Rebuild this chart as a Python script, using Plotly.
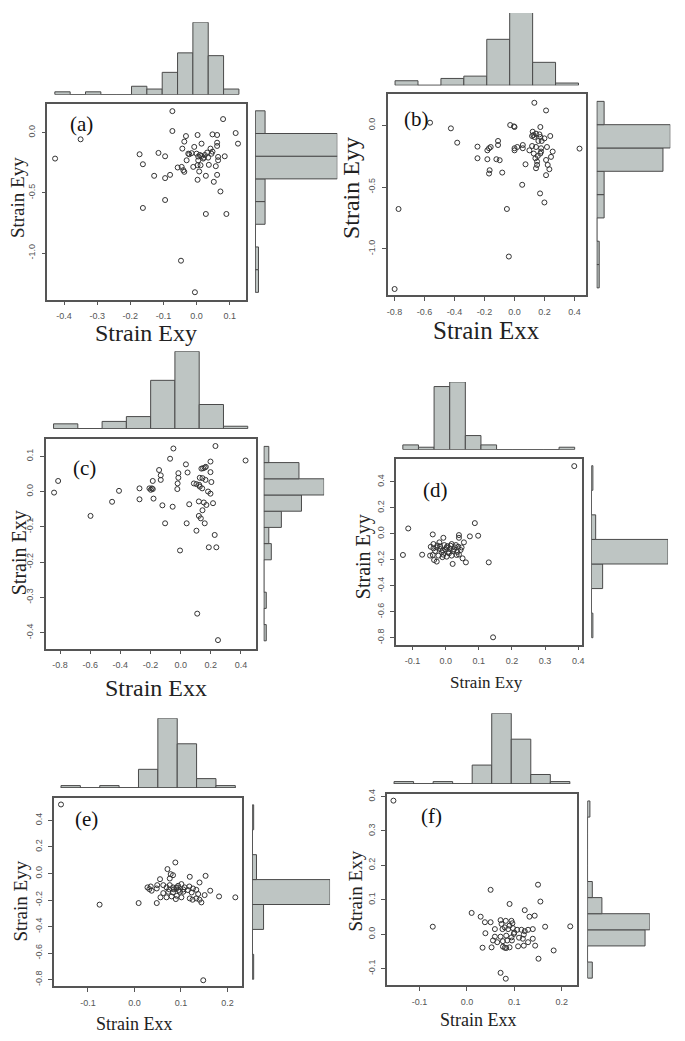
import plotly.graph_objects as go

W, H = 685, 1041          # browser window
OFF = 8                   # default body margin of the html page
FW, FH = W - 2 * OFF, H - 2 * OFF

# ---------------- data ----------------
# (a) Strain Exy (x) vs Strain Eyy (y)
a_pts = [(-0.073,0.179),(0.080,0.113),(-0.073,0.014),(0.118,-0.003),(0.125,-0.091),(-0.032,-0.028),(0.003,-0.019),
         (0.048,-0.014),(0.062,-0.019),(-0.037,-0.074),(0.015,-0.091),(0.062,-0.083),(0.062,-0.110),(-0.043,-0.132),
         (-0.007,-0.118),(0.042,-0.132),(0.048,-0.157),(-0.172,-0.179),(-0.115,-0.168),(-0.095,-0.196),(-0.025,-0.174),
         (-0.022,-0.179),(0.000,-0.174),(0.005,-0.198),(0.015,-0.193),(0.025,-0.185),(0.032,-0.165),(0.035,-0.207),
         (0.022,-0.207),(0.065,-0.201),(0.065,-0.229),(0.085,-0.196),(-0.030,-0.229),(-0.162,-0.262),(0.003,-0.270),
         (0.012,-0.270),(0.037,-0.267),(0.058,-0.278),(-0.057,-0.289),(-0.045,-0.284),(-0.040,-0.311),(-0.037,-0.325),
         (-0.010,-0.284),(0.008,-0.322),(-0.128,-0.358),(-0.095,-0.377),(-0.080,-0.350),(0.028,-0.358),(0.062,-0.350),
         (0.003,-0.391),(0.052,-0.408),(0.072,-0.488),(-0.095,-0.559),(-0.162,-0.625),(0.028,-0.675),(0.090,-0.675),
         (-0.427,-0.215),(-0.350,-0.055),(-0.047,-1.063),(-0.005,-1.325),(0.010,-0.185),(0.020,-0.215),(-0.015,-0.170),
         (0.045,-0.175),(0.005,-0.230)]
a_top_counts = [1, 0, 1, 0, 0, 3, 2, 8, 15, 26, 14, 2]
a_right_counts = [1, 1, 0, 3, 3, 25, 25, 3]          # bottom bin first
a_xticks = [-0.4, -0.3, -0.2, -0.1, 0.0, 0.1]
a_yticks = [0.0, -0.5, -1.0]

# (b) Strain Exx vs Strain Eyy
b_pts = [(0.132,0.183),(0.210,0.121),(-0.029,0.003),(0.000,-0.013),(-0.004,-0.008),(0.172,-0.013),(0.121,-0.051),
         (0.126,-0.078),(0.143,-0.067),(0.166,-0.073),(0.172,-0.094),(0.199,-0.105),(0.238,-0.086),(0.117,-0.086),
         (0.132,-0.094),(0.159,-0.126),(0.181,-0.126),(-0.110,-0.126),(-0.110,-0.159),(-0.247,-0.172),(-0.181,-0.202),
         (-0.170,-0.185),(-0.159,-0.175),(0.000,-0.185),(0.018,-0.175),(0.055,-0.159),(0.055,-0.185),(0.000,-0.202),
         (0.117,-0.167),(0.143,-0.175),(0.177,-0.185),(0.177,-0.212),(0.216,-0.175),(0.099,-0.202),(0.128,-0.228),
         (0.155,-0.247),(0.172,-0.228),(0.254,-0.212),(0.433,-0.188),(-0.247,-0.266),(-0.181,-0.274),(-0.121,-0.274),
         (-0.099,-0.282),(0.139,-0.266),(0.210,-0.280),(0.243,-0.255),(0.150,-0.293),(0.221,-0.320),(0.150,-0.320),
         (0.073,-0.315),(0.143,-0.347),(0.232,-0.355),(-0.166,-0.363),(-0.170,-0.390),(-0.082,-0.382),(0.210,-0.403),
         (0.051,-0.481),(0.170,-0.551),(-0.563,0.022),(-0.424,-0.024),(-0.382,-0.140),(-0.773,-0.677),(-0.799,-1.325),
         (-0.051,-0.677),(-0.038,-1.062),(0.199,-0.624)]
b_top_counts = [2, 0, 3, 4, 20, 32, 10, 1]
b_right_counts = [1, 1, 0, 3, 3, 27, 30, 3]
b_xticks = [-0.8, -0.6, -0.4, -0.2, 0.0, 0.2, 0.4]
b_yticks = [0.0, -0.5, -1.0]

# (c) Strain Exx vs Strain Exy
c_pts = [(-0.048,0.122),(0.231,0.129),(-0.070,0.093),(0.431,0.088),(0.198,0.085),(0.035,0.077),(0.138,0.065),
         (0.149,0.066),(0.160,0.068),(0.167,0.070),(-0.143,0.061),(-0.015,0.052),(0.046,0.054),(0.198,0.055),
         (-0.132,0.046),(-0.132,0.033),(-0.015,0.039),(0.127,0.039),(0.145,0.038),(0.165,0.033),(0.204,0.027),
         (-0.185,0.030),(-0.020,0.023),(0.088,0.023),(0.105,0.021),(0.123,0.019),(0.127,0.014),(0.143,0.009),
         (-0.273,0.009),(-0.207,0.009),(-0.191,0.009),(-0.198,0.005),(-0.185,0.007),(-0.022,0.007),(0.182,0.000),
         (0.198,-0.006),(-0.273,-0.022),(-0.180,-0.020),(0.121,-0.028),(0.154,-0.031),(0.171,-0.038),(0.215,-0.033),
         (-0.121,-0.039),(-0.053,-0.043),(0.057,-0.036),(0.145,-0.053),(0.121,-0.069),(0.134,-0.076),(-0.103,-0.090),
         (0.040,-0.090),(0.160,-0.090),(0.105,-0.111),(0.226,-0.123),(-0.840,-0.003),(-0.813,0.030),(-0.598,-0.069),
         (-0.455,-0.029),(-0.409,0.002),(-0.004,-0.167),(0.187,-0.158),(0.237,-0.158),(0.110,-0.346),(0.248,-0.421)]
c_top_counts = [2, 0, 3, 5, 20, 32, 10, 1]
c_right_counts = [1, 0, 1, 0, 0, 3, 2, 7, 15, 24, 14, 2]
c_xticks = [-0.8, -0.6, -0.4, -0.2, 0.0, 0.2, 0.4]
c_yticks = [0.1, 0.0, -0.1, -0.2, -0.3, -0.4]

# (d) Strain Exy vs Strain Eyy
d_pts = [(-0.113,0.041),(0.088,0.082),(-0.129,-0.163),(-0.071,-0.161),(-0.039,-0.005),(-0.007,-0.031),(0.040,-0.010),
         (0.040,-0.031),(0.073,-0.020),(0.098,-0.015),(0.055,-0.066),(-0.037,-0.079),(-0.019,-0.066),(-0.004,-0.087),
         (0.018,-0.079),(0.031,-0.087),(-0.037,-0.112),(-0.027,-0.105),(-0.017,-0.117),(0.003,-0.105),(0.013,-0.117),
         (0.028,-0.105),(0.038,-0.100),(0.048,-0.105),(-0.032,-0.133),(-0.012,-0.143),(0.008,-0.138),(0.023,-0.130),
         (-0.047,-0.168),(-0.039,-0.163),(-0.022,-0.168),(-0.007,-0.161),(0.003,-0.176),(0.018,-0.168),(0.033,-0.163),
         (-0.035,-0.202),(-0.027,-0.214),(0.021,-0.232),(0.051,-0.189),(0.061,-0.220),(0.130,-0.220),(-0.017,-0.097),
         (0.015,-0.092),(-0.009,-0.130),(0.388,0.521),(0.143,-0.797),(0.000,-0.120),(0.010,-0.150),(-0.025,-0.090),
         (0.035,-0.140),(0.045,-0.125),(-0.045,-0.100),(0.005,-0.095),(0.025,-0.120),(-0.010,-0.180),(0.040,-0.160)]
d_top_counts = [2, 1, 27, 29, 6, 2, 0, 0, 0, 0, 1]
d_right_counts = [1, 0, 8, 55, 3, 0, 1]
d_xticks = [-0.1, 0.0, 0.1, 0.2, 0.3, 0.4]
d_yticks = [0.4, 0.2, 0.0, -0.2, -0.4, -0.6, -0.8]

# (e) Strain Exx vs Strain Eyy
e_pts = [(0.088,0.083),(0.071,0.033),(0.078,-0.005),(0.083,-0.013),(0.076,-0.038),(0.119,-0.025),(0.153,-0.018),
         (0.055,-0.043),(0.140,-0.068),(0.028,-0.105),(0.032,-0.118),(0.037,-0.130),(0.049,-0.088),(0.048,-0.113),
         (0.062,-0.088),(0.069,-0.105),(0.076,-0.088),(0.083,-0.105),(0.091,-0.105),(0.094,-0.093),(0.101,-0.080),
         (0.108,-0.105),(0.118,-0.098),(0.126,-0.113),(0.133,-0.123),(0.163,-0.130),(0.073,-0.138),(0.083,-0.143),
         (0.098,-0.138),(0.105,-0.138),(0.123,-0.143),(0.137,-0.155),(0.151,-0.163),(0.182,-0.173),(0.217,-0.180),
         (0.056,-0.180),(0.069,-0.180),(0.080,-0.173),(0.091,-0.168),(0.101,-0.180),(0.119,-0.188),(0.125,-0.198),
         (0.133,-0.188),(0.140,-0.198),(0.144,-0.218),(0.009,-0.223),(0.048,-0.223),(0.089,-0.193),(0.062,-0.148),
         (0.035,-0.098),(-0.158,0.520),(-0.075,-0.235),(0.148,-0.805),(0.090,-0.110),(0.085,-0.120),(0.095,-0.125),
         (0.105,-0.120),(0.115,-0.125),(0.075,-0.120)]
e_top_counts = [1, 0, 1, 0, 8, 30, 19, 4, 1]
e_right_counts = [1, 0, 8, 55, 3, 0, 1]
e_xticks = [-0.1, 0.0, 0.1, 0.2]
e_yticks = [0.4, 0.2, 0.0, -0.2, -0.4, -0.6, -0.8]

# (f) Strain Exx vs Strain Exy
f_pts = [(0.050,0.129),(0.150,0.144),(0.155,0.095),(0.090,0.088),(0.122,0.070),(0.010,0.062),(0.132,0.051),
         (0.143,0.054),(0.029,0.051),(0.038,0.035),(0.050,0.035),(0.071,0.041),(0.082,0.039),(0.094,0.039),
         (0.096,0.032),(0.073,0.030),(0.165,0.022),(0.218,0.023),(0.039,0.003),(0.059,0.015),(0.075,0.015),
         (0.087,0.015),(0.097,0.018),(0.106,0.013),(0.115,0.013),(0.122,0.009),(0.129,0.013),(0.139,0.015),
         (0.099,0.001),(0.120,-0.001),(0.059,-0.007),(0.071,-0.007),(0.083,-0.004),(0.094,-0.009),(0.055,-0.018),
         (0.064,-0.023),(0.076,-0.020),(0.085,-0.018),(0.095,-0.018),(0.118,-0.013),(0.129,-0.023),(0.139,-0.013),
         (0.076,-0.036),(0.083,-0.040),(0.090,-0.038),(0.108,-0.035),(0.120,-0.033),(0.144,-0.033),(0.033,-0.039),
         (0.052,-0.038),(0.183,-0.047),(0.151,-0.071),(0.071,-0.112),(0.082,-0.129),(0.080,-0.039),(-0.155,0.388),
         (-0.072,0.022),(0.090,0.025),(0.100,0.005),(0.080,0.020),(0.110,-0.010)]
f_top_counts = [1, 0, 1, 0, 8, 30, 19, 4, 1]
f_right_counts = [2, 0, 24, 26, 6, 2, 0, 0, 0, 0, 1]
f_xticks = [-0.1, 0.0, 0.1, 0.2]
f_yticks = [0.4, 0.3, 0.2, 0.1, 0.0, -0.1]

# ---------------- layout (pixel geometry of each panel, window pixels) ----------------
panels = [
    dict(pts=a_pts, top=a_top_counts, right=a_right_counts, xt=a_xticks, yt=a_yticks,
         xlab="Strain Exy", ylab="Strain Eyy", tag="(a)",
         box=(46.7, 246.7, 99, 296), xr=(-0.45, 0.15), yr=(-1.386, 0.242),
         topb=(90, 17.3), rightb=(255.7, 338.3),
         xlab_pos=(146, 330), ylab_pos=(16, 193), tag_pos=(81, 120), xfs=24, yfs=19),
    dict(pts=b_pts, top=b_top_counts, right=b_right_counts, xt=b_xticks, yt=b_yticks,
         xlab="Strain Exx", ylab="Strain Eyy", tag="(b)",
         box=(389, 588.3, 89.3, 291.7), xr=(-0.845, 0.475), yr=(-1.376, 0.255),
         topb=(80.7, 6.7), rightb=(599.3, 673.3),
         xlab_pos=(488, 327), ylab_pos=(352, 184), tag_pos=(418, 115), xfs=25, yfs=24),
    dict(pts=c_pts, top=c_top_counts, right=c_right_counts, xt=c_xticks, yt=c_yticks,
         xlab="Strain Exx", ylab="Strain Exy", tag="(c)",
         box=(45, 256, 435.7, 646.7), xr=(-0.895, 0.497), yr=(-0.445, 0.150),
         topb=(425.7, 348), rightb=(264.3, 325),
         xlab_pos=(156, 686), ylab_pos=(18, 550), tag_pos=(84, 465), xfs=24, yfs=20),
    dict(pts=d_pts, top=d_top_counts, right=d_right_counts, xt=d_xticks, yt=d_yticks,
         xlab="Strain Exy", ylab="Strain Eyy", tag="(d)",
         box=(397.3, 584, 456, 642.7), xr=(-0.15, 0.41), yr=(-0.853, 0.577),
         topb=(446.7, 378.7), rightb=(594, 671),
         xlab_pos=(488, 681), ylab_pos=(364, 554), tag_pos=(437, 487), xfs=17, yfs=20),
    dict(pts=e_pts, top=e_top_counts, right=e_right_counts, xt=e_xticks, yt=e_yticks,
         xlab="Strain Exx", ylab="Strain Eyy", tag="(e)",
         box=(53.3, 242.7, 796.7, 986), xr=(-0.173, 0.232), yr=(-0.85, 0.57),
         topb=(786.7, 716.7), rightb=(252.7, 331),
         xlab_pos=(134, 1024), ylab_pos=(20, 900), tag_pos=(86, 818), xfs=18, yfs=19),
    dict(pts=f_pts, top=f_top_counts, right=f_right_counts, xt=f_xticks, yt=f_yticks,
         xlab="Strain Exx", ylab="Strain Exy", tag="(f)",
         box=(388.3, 579.3, 792.7, 985), xr=(-0.1685, 0.232), yr=(-0.148, 0.4077),
         topb=(782.7, 711.7), rightb=(590, 652.7),
         xlab_pos=(480, 1020), ylab_pos=(357, 890), tag_pos=(433, 815), xfs=18, yfs=19),
]

FRAME = "#555555"
BAR_FILL = "#bec5c3"
BAR_LINE = "#4a4a4a"
SERIF = "Liberation Serif"
SANS = "Liberation Sans"


def px(xp):
    return (xp - OFF) / FW


def py(yp):
    return 1 - (yp - OFF) / FH


def clamp(v):
    return min(1.0, max(0.0, v))


fig = go.Figure()
layout = {}
annotations = []


def ref(letter, n):
    return letter if n == 1 else f"{letter}{n}"


def axkey(letter, n):
    return f"{letter}axis" if n == 1 else f"{letter}axis{n}"


for i, p in enumerate(panels):
    s, t, r = 3 * i + 1, 3 * i + 2, 3 * i + 3
    x0, x1, y0, y1 = p["box"]
    xdom = [px(x0), px(x1)]
    ydom = [py(y1), py(y0)]

    # --- scatter ---
    xs = [q[0] for q in p["pts"]]
    ys = [q[1] for q in p["pts"]]
    fig.add_trace(go.Scatter(x=xs, y=ys, mode="markers", xaxis=ref("x", s), yaxis=ref("y", s),
                             marker=dict(symbol="circle-open", size=5, color="#333333",
                                         line=dict(width=1, color="#333333")),
                             hoverinfo="skip"))
    common = dict(showline=True, mirror=True, linecolor=FRAME, linewidth=1.5, showgrid=False,
                  zeroline=False, ticks="outside", ticklen=4, tickwidth=1, tickcolor=FRAME,
                  tickfont=dict(family=SANS, size=9, color="#555555"), ticklabelstandoff=3)
    layout[axkey("x", s)] = dict(domain=xdom, range=list(p["xr"]), anchor=ref("y", s),
                                 tickvals=p["xt"], ticktext=[f"{v:.1f}" for v in p["xt"]], **common)
    layout[axkey("y", s)] = dict(domain=ydom, range=list(p["yr"]), anchor=ref("x", s),
                                 tickvals=p["yt"], ticktext=[f"{v:.1f}" for v in p["yt"]],
                                 tickangle=-90, **common)

    # --- top histogram (barplot, bins as 0..n with 4% padding) ---
    n = len(p["top"])
    tb, tp = p["topb"]
    lo, hi = py(tb), py(tp)
    top_max = max(p["top"])
    rng_hi = top_max * (clamp(hi) - lo) / (hi - lo)
    fig.add_trace(go.Bar(x=[j + 0.5 for j in range(n)], y=p["top"], width=1,
                         xaxis=ref("x", t), yaxis=ref("y", t),
                         marker=dict(color=BAR_FILL, line=dict(color=BAR_LINE, width=1)),
                         hoverinfo="skip"))
    fig.add_trace(go.Scatter(x=[0, n], y=[0, 0], mode="lines", xaxis=ref("x", t), yaxis=ref("y", t),
                             line=dict(color=BAR_LINE, width=1), hoverinfo="skip"))
    layout[axkey("x", t)] = dict(domain=xdom, range=[-0.04 * n, 1.04 * n], visible=False,
                                 anchor=ref("y", t))
    layout[axkey("y", t)] = dict(domain=[lo, clamp(hi)], range=[0, rng_hi],
                                 visible=False, anchor=ref("x", t))

    # --- right histogram (horizontal) ---
    m = len(p["right"])
    rb, rp = p["rightb"]
    fig.add_trace(go.Bar(y=[j + 0.5 for j in range(m)], x=p["right"], width=1, orientation="h",
                         xaxis=ref("x", r), yaxis=ref("y", r),
                         marker=dict(color=BAR_FILL, line=dict(color=BAR_LINE, width=1)),
                         hoverinfo="skip"))
    fig.add_trace(go.Scatter(x=[0, 0], y=[0, m], mode="lines", xaxis=ref("x", r), yaxis=ref("y", r),
                             line=dict(color=BAR_LINE, width=1), hoverinfo="skip"))
    layout[axkey("x", r)] = dict(domain=[px(rb), clamp(px(rp))], range=[0, max(p["right"])],
                                 visible=False, anchor=ref("y", r))
    layout[axkey("y", r)] = dict(domain=ydom, range=[-0.04 * m, 1.04 * m], visible=False,
                                 anchor=ref("x", r))

    # --- texts ---
    cx, cy = p["xlab_pos"]
    annotations.append(dict(text=p["xlab"], x=px(cx), y=py(cy), xref="paper", yref="paper",
                            showarrow=False, xanchor="center", yanchor="middle",
                            font=dict(family=SERIF, size=p["xfs"], color="#222222")))
    cx, cy = p["ylab_pos"]
    annotations.append(dict(text=p["ylab"], x=px(cx), y=py(cy), xref="paper", yref="paper",
                            showarrow=False, xanchor="center", yanchor="middle", textangle=-90,
                            font=dict(family=SERIF, size=p["yfs"], color="#222222")))
    cx, cy = p["tag_pos"]
    annotations.append(dict(text=p["tag"], x=px(cx), y=py(cy), xref="paper", yref="paper",
                            showarrow=False, xanchor="center", yanchor="middle",
                            font=dict(family=SERIF, size=21, color="#111111")))

fig.update_layout(width=FW, height=FH, margin=dict(l=0, r=0, t=0, b=0),
                  paper_bgcolor="white", plot_bgcolor="white", showlegend=False,
                  annotations=annotations, **layout)

fig.write_html("out.html")
